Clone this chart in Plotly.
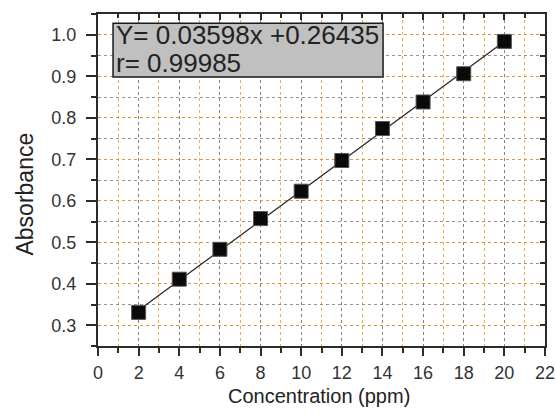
import plotly.graph_objects as go

# ---- data ----
concentration = [2, 4, 6, 8, 10, 12, 14, 16, 18, 20]
absorbance = [0.331, 0.411, 0.483, 0.557, 0.623, 0.697, 0.774, 0.838, 0.906, 0.984]
fit_slope = 0.03598
fit_intercept = 0.26435
fit_r = 0.99985
x_tick_vals = [0, 2, 4, 6, 8, 10, 12, 14, 16, 18, 20, 22]
y_tick_vals = [0.3, 0.4, 0.5, 0.6, 0.7, 0.8, 0.9, 1.0]
y_tick_text = ["0.3", "0.4", "0.5", "0.6", "0.7", "0.8", "0.9", "1.0"]

fit_x = [concentration[0], concentration[-1]]
fit_y = [fit_slope * v + fit_intercept for v in fit_x]

FONT = "Liberation Sans, Arial, sans-serif"
ORANGE = "rgba(240,150,40,0.8)"
GRAY = "rgba(100,115,135,0.75)"
AXIS = "#2b2b2b"
XR = [0, 22]
YR = [0.25, 1.05]

fig = go.Figure()
fig.add_trace(go.Scatter(x=fit_x, y=fit_y, mode="lines",
                         line=dict(color="#222222", width=1.2),
                         showlegend=False, hoverinfo="skip"))
fig.add_trace(go.Scatter(x=concentration, y=absorbance, mode="markers",
                         marker=dict(symbol="square", size=14, color="#0a0a0a",
                                     line=dict(color="#555555", width=1)),
                         showlegend=False))
# invisible trace to activate the mirrored (top/right) tick axes
fig.add_trace(go.Scatter(x=[None], y=[None], xaxis="x2", yaxis="y2",
                         showlegend=False, hoverinfo="skip"))

fig.update_layout(
    width=556, height=417,
    margin=dict(l=98, r=11, t=14, b=71, autoexpand=False),
    paper_bgcolor="white", plot_bgcolor="white",
    font=dict(family=FONT, color="#333333"),
    xaxis=dict(range=XR, tickmode="array", tickvals=x_tick_vals, automargin=False,
               ticks="outside", ticklen=8, tickwidth=1.5, tickcolor=AXIS,
               showline=True, linecolor=AXIS, linewidth=2, mirror=True,
               showgrid=True, gridcolor=GRAY, gridwidth=1, griddash="dot",
               zeroline=False, tickfont=dict(size=18, color="#333333"),
               ticklabelstandoff=1,
               minor=dict(dtick=1, tick0=0, ticks="outside", ticklen=5,
                          tickwidth=1.5, tickcolor=AXIS, showgrid=True,
                          gridcolor=ORANGE, gridwidth=1, griddash="dot")),
    yaxis=dict(range=YR, tickmode="array", tickvals=y_tick_vals, ticktext=y_tick_text,
               automargin=False,
               ticks="outside", ticklen=10, tickwidth=1.5, tickcolor=AXIS,
               showline=True, linecolor=AXIS, linewidth=2, mirror=True,
               showgrid=True, gridcolor=ORANGE, gridwidth=1, griddash="dot",
               zeroline=False, tickfont=dict(size=18, color="#333333"),
               ticklabelstandoff=6,
               minor=dict(dtick=0.05, tick0=0.25, ticks="outside", ticklen=5,
                          tickwidth=1.5, tickcolor=AXIS, showgrid=True,
                          gridcolor=GRAY, gridwidth=1, griddash="dot")),
    xaxis2=dict(range=XR, overlaying="x", side="top", anchor="y", automargin=False,
                tickmode="array", tickvals=x_tick_vals, showticklabels=False,
                ticks="inside", ticklen=6, tickwidth=1.5, tickcolor=AXIS,
                showline=False, showgrid=False, zeroline=False,
                minor=dict(dtick=1, tick0=0, ticks="inside", ticklen=4,
                           tickwidth=1.5, tickcolor=AXIS, showgrid=False)),
    yaxis2=dict(range=YR, overlaying="y", side="right", anchor="x", automargin=False,
                tickmode="array", tickvals=y_tick_vals, showticklabels=False,
                ticks="inside", ticklen=5, tickwidth=1.5, tickcolor=AXIS,
                showline=False, showgrid=False, zeroline=False,
                minor=dict(dtick=0.05, tick0=0.25, ticks="inside", ticklen=5,
                           tickwidth=1.5, tickcolor=AXIS, showgrid=False)),
)

# equation box
fig.add_shape(type="rect", xref="x", yref="y", x0=0.74, x1=14.03, y0=0.898, y1=1.028,
              fillcolor="#c0c0c0", line=dict(color="#1a1a1a", width=1.5), layer="above")
fig.add_annotation(xref="x", yref="y", x=0.80, y=0.999, xanchor="left", yanchor="middle",
                   text=f"Y= {fit_slope:.5f}x +{fit_intercept:.5f}", showarrow=False,
                   font=dict(family=FONT, size=26, color="#222222"))
fig.add_annotation(xref="x", yref="y", x=0.80, y=0.931, xanchor="left", yanchor="middle",
                   text=f"r= {fit_r:.5f}", showarrow=False,
                   font=dict(family=FONT, size=26, color="#222222"))

# axis titles
fig.add_annotation(xref="paper", yref="paper", x=-0.1655, y=0.4563,
                   xanchor="center", yanchor="middle", textangle=-90,
                   text="Absorbance", showarrow=False,
                   font=dict(family=FONT, size=23, color="#222222"))
fig.add_annotation(xref="paper", yref="paper", x=0.4944, y=-0.1506,
                   xanchor="center", yanchor="middle",
                   text="Concentration (ppm)", showarrow=False,
                   font=dict(family=FONT, size=20, color="#222222"))

fig.write_html("out.html", config={"displayModeBar": False},
               post_script="document.body.style.margin='0px';document.body.style.overflow='hidden';")
